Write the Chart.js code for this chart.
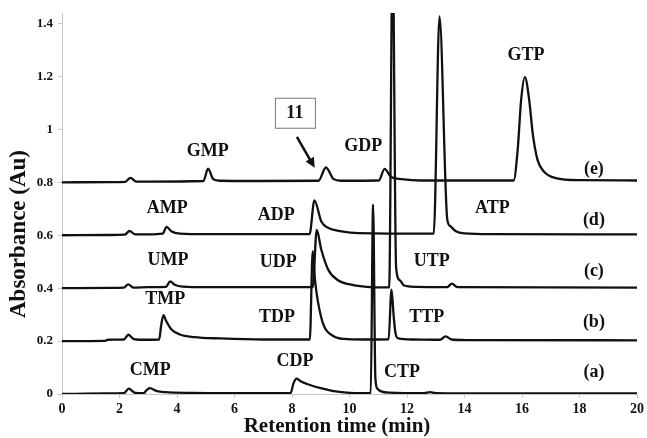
<!DOCTYPE html>
<html>
<head>
<meta charset="utf-8">
<script src="https://cdn.jsdelivr.net/npm/chart.js@4.4.1/dist/chart.umd.min.js"></script>
<style>
  html, body { margin: 0; padding: 0; background: #fff; }
</style>
</head>
<body>
<canvas id="myChartHplc" width="647" height="438"></canvas>
<script>
// Retention time (min) / absorbance (Au), one pair of arrays per trace
const tA = [0, 1.5, 2.15, 2.32, 2.55, 2.85, 2.92, 3.05, 3.3, 3.6, 4.5, 6, 7.95, 8.05, 8.17, 8.3, 8.6, 9.0, 9.4, 9.9, 10.5, 10.74, 10.82, 10.9, 10.97, 11.1, 11.4, 12.6, 12.8, 13.0, 14, 20];
const vA = [0, 0.002, 0.003, 0.02, 0.004, 0.003, 0.012, 0.022, 0.011, 0.007, 0.004, 0.003, 0.003, 0.04, 0.058, 0.048, 0.035, 0.022, 0.012, 0.005, 0.003, 0.004, 0.716, 0.06, 0.02, 0.01, 0.005, 0.003, 0.007, 0.003, 0.002, 0.002];

const tB = [0, 1.5, 1.6, 2.15, 2.31, 2.5, 2.7, 3.38, 3.45, 3.53, 3.62, 3.8, 4.1, 4.6, 5.5, 7, 8.62, 8.72, 8.8, 8.9, 9.1, 9.45, 9.8, 10.5, 11.36, 11.46, 11.54, 11.6, 11.7, 12.2, 13.15, 13.34, 13.55, 14, 20];
const vB = [0.2, 0.201, 0.205, 0.206, 0.224, 0.207, 0.205, 0.206, 0.26, 0.298, 0.277, 0.245, 0.225, 0.215, 0.21, 0.206, 0.206, 0.54, 0.43, 0.35, 0.26, 0.218, 0.208, 0.206, 0.207, 0.394, 0.29, 0.23, 0.21, 0.206, 0.205, 0.218, 0.206, 0.204, 0.203];

const tC = [0, 1.6, 2.15, 2.3, 2.5, 3.0, 3.62, 3.76, 3.92, 4.2, 5, 8.72, 8.86, 9.02, 9.26, 9.6, 10.06, 10.6, 11.38, 11.5, 11.62, 11.75, 11.9, 12.3, 13.4, 13.56, 13.75, 20];
const vC = [0.4, 0.401, 0.402, 0.414, 0.402, 0.404, 0.405, 0.426, 0.413, 0.406, 0.404, 0.404, 0.62, 0.545, 0.47, 0.43, 0.413, 0.405, 0.403, 1.7, 0.48, 0.43, 0.41, 0.405, 0.404, 0.417, 0.404, 0.402];

const tD = [0, 1.6, 2.18, 2.35, 2.55, 3.0, 3.5, 3.64, 3.8, 4.1, 5, 8.61, 8.78, 9.02, 9.26, 9.72, 10.3, 12.93, 13.13, 13.4, 13.5, 13.7, 14.0, 15, 20];
const vD = [0.6, 0.601, 0.602, 0.616, 0.603, 0.603, 0.606, 0.632, 0.615, 0.606, 0.604, 0.604, 0.732, 0.652, 0.628, 0.615, 0.608, 0.606, 1.427, 0.66, 0.635, 0.615, 0.607, 0.604, 0.603];

const tE = [0, 1.7, 2.2, 2.38, 2.58, 3, 4.92, 5.08, 5.26, 5.5, 6.5, 8.92, 9.18, 9.45, 9.7, 11.02, 11.22, 11.45, 11.8, 12.5, 15.71, 15.85, 15.97, 16.1, 16.25, 16.37, 16.54, 16.76, 17.17, 18, 20];
const vE = [0.8, 0.801, 0.802, 0.817, 0.803, 0.803, 0.805, 0.852, 0.812, 0.806, 0.805, 0.806, 0.856, 0.812, 0.806, 0.807, 0.851, 0.82, 0.812, 0.807, 0.807, 0.923, 1.112, 1.198, 1.112, 0.987, 0.885, 0.841, 0.816, 0.808, 0.807];

const xTicks = [0, 2, 4, 6, 8, 10, 12, 14, 16, 18, 20];
const yTicks = [0, 0.2, 0.4, 0.6, 0.8, 1, 1.2, 1.4];

// peak names and where they sit (data coords)
const peakNames = ['CMP', 'CDP', 'CTP', 'TMP', 'TDP', 'TTP', 'UMP', 'UDP', 'UTP', 'AMP', 'ADP', 'ATP', 'GMP', 'GDP', 'GTP'];
const peakNameT = [3.07, 8.1, 11.83, 3.59, 7.48, 12.69, 3.69, 7.52, 12.86, 3.66, 7.45, 14.97, 5.07, 10.48, 16.14];
const peakNameV = [0.09, 0.125, 0.08, 0.356, 0.288, 0.29, 0.507, 0.497, 0.5, 0.70, 0.677, 0.70, 0.916, 0.935, 1.28];

const traceNames = ['(a)', '(b)', '(c)', '(d)', '(e)'];
const traceNameV = [0.08, 0.27, 0.462, 0.658, 0.848];
const traceNameT = 18.5;

const traces = [[tA, vA], [tB, vB], [tC, vC], [tD, vD], [tE, vE]];

const serif = "'Liberation Serif', 'Times New Roman', serif";

// texts, the boxed 11 with its arrow, and the axis titles
const annotations = {
    id: 'annotations',
    afterDatasetsDraw(chart) {
        const { ctx, scales: { x, y } } = chart;
        ctx.save();
        ctx.fillStyle = '#111';
        ctx.textAlign = 'center';
        ctx.textBaseline = 'middle';
        ctx.font = 'bold 18px ' + serif;
        peakNames.forEach((name, i) => {
            ctx.fillText(name, x.getPixelForValue(peakNameT[i]), y.getPixelForValue(peakNameV[i]));
        });
        traceNames.forEach((name, i) => {
            ctx.fillText(name, x.getPixelForValue(traceNameT), y.getPixelForValue(traceNameV[i]));
        });

        // boxed label 11
        const bx = x.getPixelForValue(8.1), by = y.getPixelForValue(1.063);
        ctx.fillStyle = '#fff';
        ctx.fillRect(bx - 20, by - 15, 40, 30);
        ctx.strokeStyle = '#777';
        ctx.lineWidth = 1;
        ctx.strokeRect(bx - 20 + 0.5, by - 15 + 0.5, 40, 30);
        ctx.fillStyle = '#111';
        ctx.fillText('11', bx, by + 1);

        // arrow
        const x0 = x.getPixelForValue(8.17), y0 = y.getPixelForValue(0.972);
        const x1 = x.getPixelForValue(8.79), y1 = y.getPixelForValue(0.855);
        const ang = Math.atan2(y1 - y0, x1 - x0);
        ctx.strokeStyle = '#111';
        ctx.lineWidth = 2.5;
        ctx.beginPath();
        ctx.moveTo(x0, y0);
        ctx.lineTo(x1 - 6 * Math.cos(ang), y1 - 6 * Math.sin(ang));
        ctx.stroke();
        ctx.beginPath();
        ctx.moveTo(x1, y1);
        ctx.lineTo(x1 - 11 * Math.cos(ang - 0.45), y1 - 11 * Math.sin(ang - 0.45));
        ctx.lineTo(x1 - 11 * Math.cos(ang + 0.45), y1 - 11 * Math.sin(ang + 0.45));
        ctx.closePath();
        ctx.fill();

        // axis titles
        ctx.font = 'bold 21px ' + serif;
        ctx.fillText('Retention time (min)', 337, 427);
        ctx.translate(19, 234);
        ctx.rotate(-Math.PI / 2);
        ctx.font = 'bold 23px ' + serif;
        ctx.fillText('Absorbance (Au)', 0, 0);
        ctx.restore();
    }
};

new Chart(document.getElementById('myChartHplc'), {
    type: 'line',
    data: {
        datasets: traces.map(([t, v], i) => ({
            label: traceNames[i],
            data: t.map((tt, j) => ({ x: tt, y: v[j] })),
            borderColor: '#111',
            borderWidth: 2.3,
            pointRadius: 0,
            cubicInterpolationMode: 'monotone',
            fill: false
        }))
    },
    options: {
        responsive: false,
        animation: false,
        layout: { padding: { top: 13, right: 5, left: 0, bottom: 0 } },
        plugins: {
            legend: { display: false },
            tooltip: { enabled: false }
        },
        scales: {
            x: {
                type: 'linear',
                min: 0,
                max: 20,
                afterBuildTicks: s => { s.ticks = xTicks.map(v => ({ value: v })); },
                afterFit: s => { s.height = 44; },
                ticks: {
                    color: '#111',
                    padding: 3,
                    maxRotation: 0,
                    font: { family: serif, size: 14, weight: 'bold' }
                },
                grid: { drawOnChartArea: false, color: '#c8c8c8', tickLength: 4 },
                border: { color: '#c8c8c8', width: 1 }
            },
            y: {
                min: 0,
                max: 1.44,
                afterBuildTicks: s => { s.ticks = yTicks.map(v => ({ value: v })); },
                afterFit: s => { s.width = 62; },
                ticks: {
                    color: '#111',
                    padding: 5,
                    callback: v => String(Math.round(v * 10) / 10),
                    font: { family: serif, size: 13, weight: 'bold' }
                },
                grid: { drawOnChartArea: false, color: '#c8c8c8', tickLength: 4 },
                border: { color: '#c8c8c8', width: 1 }
            }
        }
    },
    plugins: [annotations]
});
</script>
</body>
</html>
